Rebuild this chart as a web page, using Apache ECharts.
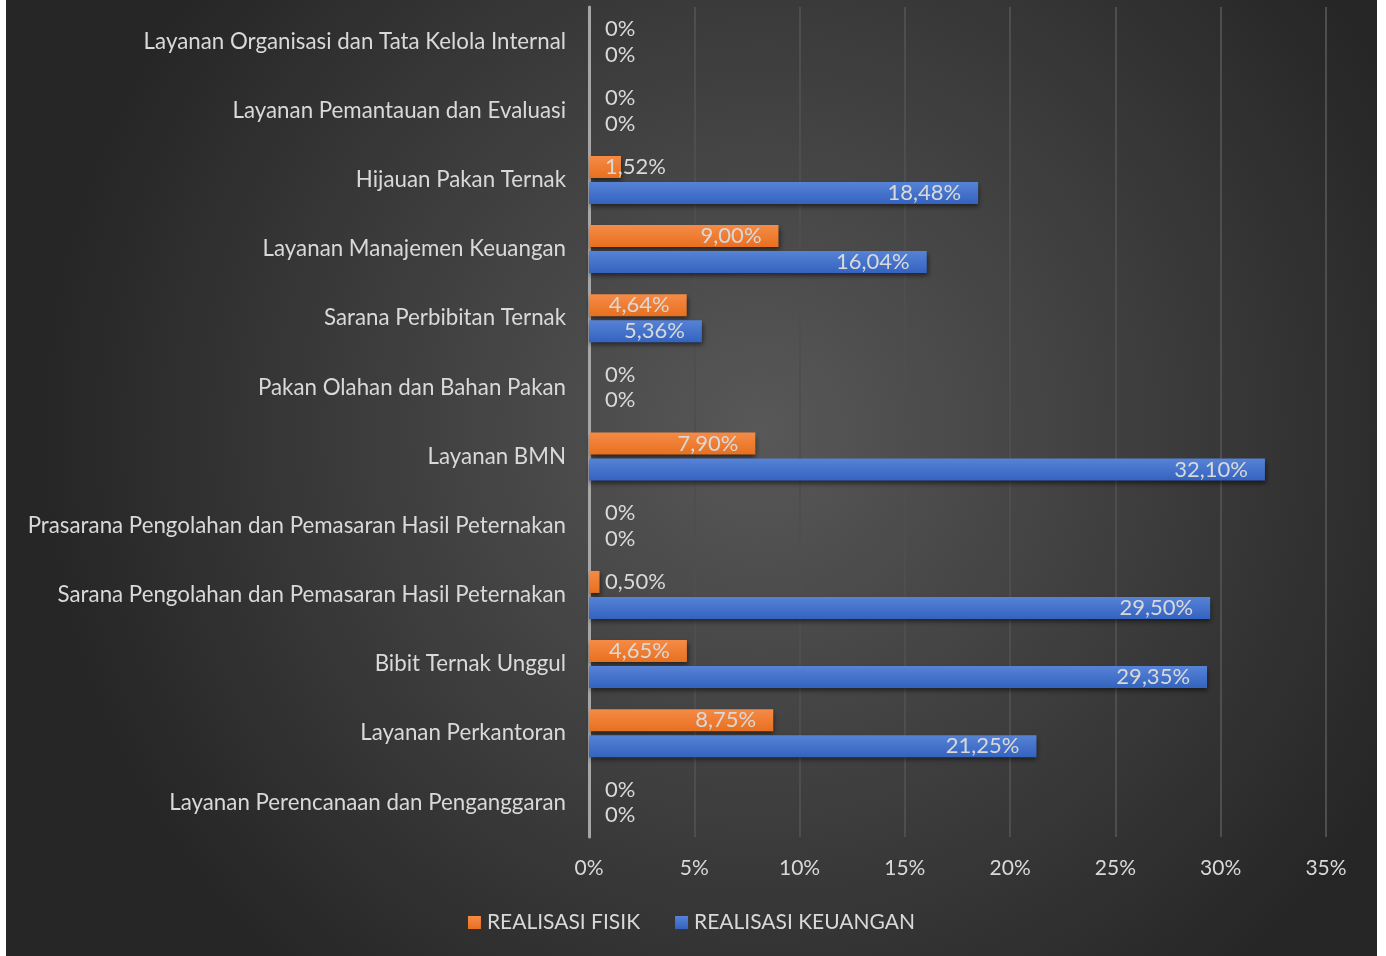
<!DOCTYPE html>
<html>
<head>
<meta charset="utf-8">
<script src="https://cdn.jsdelivr.net/npm/echarts@6/dist/echarts.min.js"></script>
<style>
html,body{margin:0;padding:0;background:#ffffff;}
#chart{position:absolute;left:6px;top:0;width:1371px;height:956px;}
</style>
</head>
<body>
<div id="chart"></div>
<script>
const categories = [
  "Layanan Organisasi dan Tata Kelola Internal",
  "Layanan Pemantauan dan Evaluasi",
  "Hijauan Pakan Ternak",
  "Layanan Manajemen Keuangan",
  "Sarana Perbibitan Ternak",
  "Pakan Olahan dan Bahan Pakan",
  "Layanan BMN",
  "Prasarana Pengolahan dan Pemasaran Hasil Peternakan",
  "Sarana Pengolahan dan Pemasaran Hasil Peternakan",
  "Bibit Ternak Unggul",
  "Layanan Perkantoran",
  "Layanan Perencanaan dan Penganggaran"
];
const realisasiFisik = [0, 0, 1.52, 9.00, 4.64, 0, 7.90, 0, 0.50, 4.65, 8.75, 0];
const realisasiKeuangan = [0, 0, 18.48, 16.04, 5.36, 0, 32.10, 0, 29.50, 29.35, 21.25, 0];
const seriesNames = ["REALISASI FISIK", "REALISASI KEUANGAN"];
const xTicks = [0, 5, 10, 15, 20, 25, 30, 35];

const FONT = "Lato, 'Open Sans', sans-serif";
const TXT = "#d9d9d9";

function fmt(v) {
  if (v === 0) return "0%";
  return v.toFixed(2).replace(".", ",") + "%";
}
function buildData(arr) {
  return arr.map(v => ({
    value: v,
    label: v > 3
      ? { position: "insideRight", distance: 17 }
      : { position: "insideLeft", distance: 16 }
  }));
}
function grad(c1, c2) {
  return new echarts.graphic.LinearGradient(0, 0, 0, 1, [
    { offset: 0, color: c1 }, { offset: 1, color: c2 }
  ]);
}
const labelBase = {
  show: true,
  color: TXT,
  fontFamily: FONT,
  fontSize: 22,
  padding: [5, 0, 0, 0],
  formatter: p => fmt(p.value)
};

const chart = echarts.init(document.getElementById("chart"));
chart.setOption({
  animation: false,
  backgroundColor: new echarts.graphic.RadialGradient(0.55, 0.45, 0.75, [
    { offset: 0, color: "#585858" },
    { offset: 1, color: "#262626" }
  ]),
  textStyle: { fontFamily: FONT },
  grid: { left: 583, right: 51, top: 7, bottom: 119, containLabel: false },
  legend: {
    bottom: 18,
    left: "center",
    itemWidth: 13,
    itemHeight: 13,
    itemGap: 35,
    icon: "rect",
    textStyle: { color: TXT, fontSize: 21, fontFamily: FONT, padding: [0, 0, 0, 1] },
    data: seriesNames
  },
  xAxis: {
    type: "value",
    min: 0,
    max: 35,
    interval: 5,
    axisLine: { show: false },
    axisTick: { show: false },
    splitLine: { show: true, lineStyle: { color: "#4e4e4e", width: 2 } },
    axisLabel: {
      color: TXT, fontSize: 21, fontFamily: FONT, margin: 21,
      formatter: v => xTicks.indexOf(v) >= 0 ? v + "%" : ""
    }
  },
  yAxis: {
    type: "category",
    inverse: true,
    data: categories,
    axisLine: { show: true, lineStyle: { color: "#a6a6a6", width: 3 } },
    axisTick: { show: false },
    axisLabel: { color: TXT, fontSize: 22.3, fontFamily: FONT, margin: 23 }
  },
  series: [
    {
      name: seriesNames[0],
      type: "bar",
      data: buildData(realisasiFisik),
      barWidth: 22,
      barGap: "18%",
      itemStyle: {
        color: grad("#f58b47", "#e8701f"),
        shadowColor: "rgba(0,0,0,0.55)", shadowBlur: 5, shadowOffsetY: 3, shadowOffsetX: 1
      },
      label: labelBase
    },
    {
      name: seriesNames[1],
      type: "bar",
      data: buildData(realisasiKeuangan),
      barWidth: 22,
      itemStyle: {
        color: grad("#5683d6", "#3463c0"),
        shadowColor: "rgba(0,0,0,0.55)", shadowBlur: 5, shadowOffsetY: 3, shadowOffsetX: 1
      },
      label: labelBase
    }
  ]
});
</script>
</body>
</html>
